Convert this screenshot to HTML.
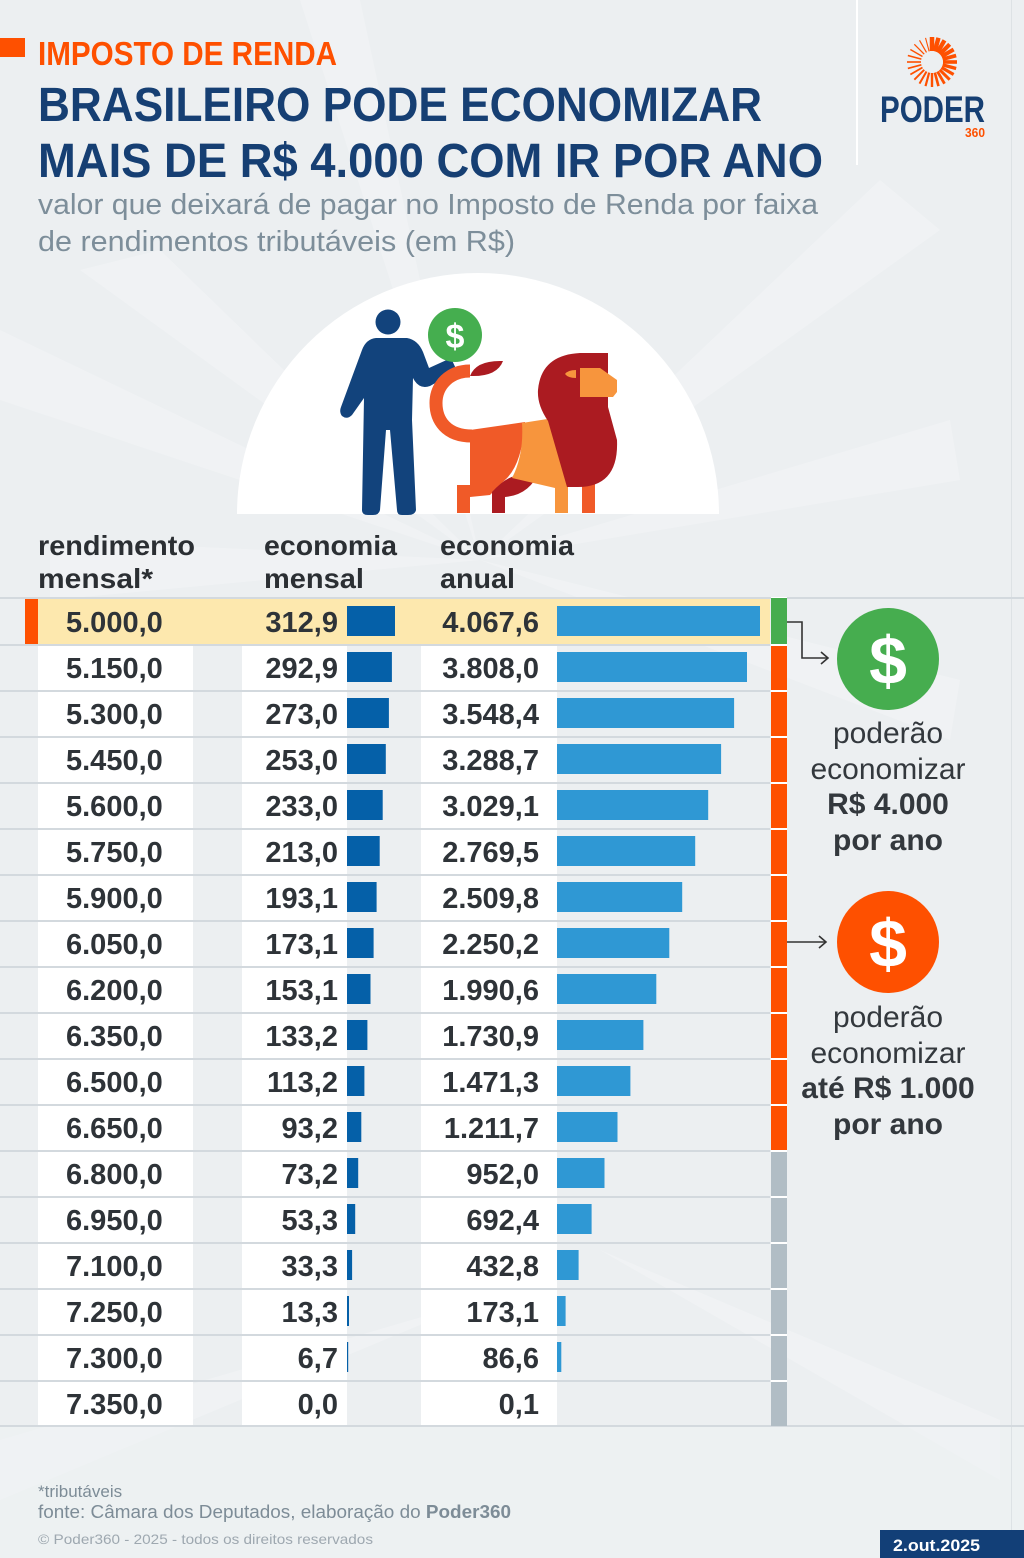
<!DOCTYPE html>
<html><head><meta charset="utf-8"><style>
html,body{margin:0;padding:0;background:#eceff1;}
svg{display:block;}
text{font-family:"Liberation Sans",sans-serif;}
</style></head><body>
<svg width="1024" height="1558" viewBox="0 0 1024 1558" xmlns="http://www.w3.org/2000/svg">
<rect x="0" y="0" width="1024" height="1558" fill="#eceff1"/>
<!-- faint rays -->
<g fill="#f0f2f4">
<polygon points="480,560 80,270 160,250"/>
<polygon points="480,560 0,330 0,400"/>
<polygon points="480,560 50,540 50,600"/>
<polygon points="480,560 300,0 360,0"/>
<polygon points="480,560 880,180 940,230"/>
<polygon points="480,560 950,420 960,480"/>
<polygon points="480,560 960,680 950,740"/>
<polygon points="480,1300 0,1440 0,1500"/>
<polygon points="600,1250 1000,1420 1000,1480"/>
</g>
<rect x="0" y="1427" width="1024" height="131" fill="#eef1f3" opacity="0.6"/>
<!-- header -->
<rect x="0" y="38" width="25" height="19" fill="#fe5000"/>
<text x="38" y="65" font-size="33" font-weight="bold" fill="#fe5000" textLength="299" lengthAdjust="spacingAndGlyphs">IMPOSTO DE RENDA</text>
<text x="38" y="121" font-size="48" font-weight="bold" fill="#163f73" textLength="724" lengthAdjust="spacingAndGlyphs">BRASILEIRO PODE ECONOMIZAR</text>
<text x="38" y="177" font-size="48" font-weight="bold" fill="#163f73" textLength="785" lengthAdjust="spacingAndGlyphs">MAIS DE R$ 4.000 COM IR POR ANO</text>
<text x="38" y="214" font-size="29" fill="#7d8e9a" textLength="780" lengthAdjust="spacingAndGlyphs">valor que deixará de pagar no Imposto de Renda por faixa</text>
<text x="38" y="251" font-size="29" fill="#7d8e9a" textLength="477" lengthAdjust="spacingAndGlyphs">de rendimentos tributáveis (em R$)</text>
<!-- logo -->
<rect x="856" y="0" width="2" height="165" fill="#ffffff"/>
<rect x="1011" y="0" width="1" height="1558" fill="#dde2e5"/>
<g transform="translate(932,62)" stroke="#fe5000" stroke-linecap="butt">
<line x1="0" y1="-11" x2="0" y2="-25" stroke-width="4.5"/>
<line x1="0" y1="-11" x2="0" y2="-25" stroke-width="4.4" transform="rotate(15)"/>
<line x1="0" y1="-11" x2="0" y2="-25" stroke-width="4.3" transform="rotate(30)"/>
<line x1="0" y1="-11" x2="0" y2="-25" stroke-width="4.2" transform="rotate(45)"/>
<line x1="0" y1="-11" x2="0" y2="-25" stroke-width="4" transform="rotate(60)"/>
<line x1="0" y1="-11" x2="0" y2="-25" stroke-width="3.8" transform="rotate(75)"/>
<line x1="0" y1="-11" x2="0" y2="-25" stroke-width="3.6" transform="rotate(90)"/>
<line x1="0" y1="-11" x2="0" y2="-25" stroke-width="3.4" transform="rotate(105)"/>
<line x1="0" y1="-11" x2="0" y2="-25" stroke-width="3.2" transform="rotate(120)"/>
<line x1="0" y1="-11" x2="0" y2="-25" stroke-width="3" transform="rotate(135)"/>
<line x1="0" y1="-11" x2="0" y2="-25" stroke-width="2.8" transform="rotate(150)"/>
<line x1="0" y1="-11" x2="0" y2="-25" stroke-width="2.6" transform="rotate(165)"/>
<line x1="0" y1="-11" x2="0" y2="-25" stroke-width="2.4" transform="rotate(180)"/>
<line x1="0" y1="-11" x2="0" y2="-25" stroke-width="2.2" transform="rotate(195)"/>
<line x1="0" y1="-11" x2="0" y2="-25" stroke-width="2" transform="rotate(210)"/>
<line x1="0" y1="-11" x2="0" y2="-25" stroke-width="1.9" transform="rotate(225)"/>
<line x1="0" y1="-11" x2="0" y2="-25" stroke-width="1.8" transform="rotate(240)"/>
<line x1="0" y1="-11" x2="0" y2="-25" stroke-width="1.7" transform="rotate(255)"/>
<line x1="0" y1="-11" x2="0" y2="-25" stroke-width="1.6" transform="rotate(270)"/>
<line x1="0" y1="-11" x2="0" y2="-25" stroke-width="1.5" transform="rotate(285)"/>
<line x1="0" y1="-11" x2="0" y2="-25" stroke-width="1.4" transform="rotate(300)"/>
<line x1="0" y1="-11" x2="0" y2="-25" stroke-width="1.3" transform="rotate(315)"/>
<line x1="0" y1="-11" x2="0" y2="-25" stroke-width="1.2" transform="rotate(330)"/>
<line x1="0" y1="-11" x2="0" y2="-25" stroke-width="1.1" transform="rotate(345)"/>
</g>
<text x="880" y="122" font-size="37" font-weight="bold" fill="#163f73" textLength="105" lengthAdjust="spacingAndGlyphs">PODER</text>
<text x="965" y="137" font-size="13" font-weight="bold" fill="#fe5000" textLength="20" lengthAdjust="spacingAndGlyphs">360</text>
<!-- illustration -->
<path d="M237,514 A241,241 0 0 1 719,514 Z" fill="#ffffff"/>
<circle cx="388" cy="322" r="12.5" fill="#12437c"/>
<path d="M376,338 L407,338 Q418,340 423,352 L429,368 L451,358 L457,371 L430,386 Q419,390 413,378 L412,420 L416,510 Q415,515 408,515 L402,515 Q397,515 397,510 L390,430 L386,430 L380,510 Q379,515 373,515 L368,515 Q362,515 362,510 L364,398 L352,415 Q347,420 342,416 Q339,412 341,407 L362,350 Q366,339 376,338 Z" fill="#12437c"/>
<circle cx="455" cy="335" r="27" fill="#45ae4f"/>
<text x="455" y="348" font-size="34" font-weight="bold" fill="#ffffff" text-anchor="middle">$</text>
<!-- lion -->
<path d="M472,436 C446,436 436,420 436,403 C436,385 450,371 470,371" fill="none" stroke="#f05a28" stroke-width="13"/>
<path d="M470,376 Q476,360 503,361 Q497,377 470,376 Z" fill="#ab1b21"/>
<path d="M470,430 L525,422 Q522,465 505,480 L490,495 L470,497 L470,513 L457,513 L457,485 L470,485 Z" fill="#f05a28"/>
<path d="M540,470 Q530,495 505,497 L505,513 L492,513 L492,492 Q505,478 515,476 Z" fill="#ab1b21"/>
<path d="M522,423 L560,417 L572,486 L568,486 L568,513 L555,513 L555,488 L512,478 Q524,455 522,423 Z" fill="#f7953d"/>
<rect x="582" y="480" width="13" height="33" fill="#f05a28"/>
<path d="M608,353 L608,407 L617,440 Q619,487 578,487 L567,487 L548,421 Q537,405 538,390 Q541,355 580,353 Z" fill="#ab1b21"/>
<path d="M580,368 L600,368 L617,380 L617,392 L613,397 L580,397 Z" fill="#f7953d"/>
<path d="M565,374 Q568,370 576,370 L576,378 Q568,378 565,374 Z" fill="#f7953d"/>
<!-- column headers -->
<g font-size="28" font-weight="bold" fill="#2b2f33">
<text x="38" y="555" textLength="157" lengthAdjust="spacingAndGlyphs">rendimento</text>
<text x="38" y="588" textLength="115" lengthAdjust="spacingAndGlyphs">mensal*</text>
<text x="264" y="555" textLength="133" lengthAdjust="spacingAndGlyphs">economia</text>
<text x="264" y="588" textLength="100" lengthAdjust="spacingAndGlyphs">mensal</text>
<text x="440" y="555" textLength="134" lengthAdjust="spacingAndGlyphs">economia</text>
<text x="440" y="588" textLength="75" lengthAdjust="spacingAndGlyphs">anual</text>
</g>
<!-- table: separators -->
<rect x="0" y="597" width="1024" height="2" fill="#d3d9de"/>
<g fill="#d3d9de">
<rect x="0" y="644" width="770" height="2"/><rect x="0" y="690" width="770" height="2"/><rect x="0" y="736" width="770" height="2"/>
<rect x="0" y="782" width="770" height="2"/><rect x="0" y="828" width="770" height="2"/><rect x="0" y="874" width="770" height="2"/>
<rect x="0" y="920" width="770" height="2"/><rect x="0" y="966" width="770" height="2"/><rect x="0" y="1012" width="770" height="2"/>
<rect x="0" y="1058" width="770" height="2"/><rect x="0" y="1104" width="770" height="2"/><rect x="0" y="1150" width="770" height="2"/>
<rect x="0" y="1196" width="770" height="2"/><rect x="0" y="1242" width="770" height="2"/><rect x="0" y="1288" width="770" height="2"/>
<rect x="0" y="1334" width="770" height="2"/><rect x="0" y="1380" width="770" height="2"/><rect x="0" y="1425" width="1024" height="2"/>
</g>
<!-- highlighted row -->
<rect x="25" y="599" width="13" height="45" fill="#fe5000"/>
<rect x="38" y="599" width="732" height="45" fill="#fde8ae"/>
<!-- white cells -->
<g fill="#ffffff">
<rect x="38" y="646" width="155" height="44"/><rect x="242" y="646" width="105" height="44"/><rect x="421" y="646" width="136" height="44"/>
<rect x="38" y="692" width="155" height="44"/><rect x="242" y="692" width="105" height="44"/><rect x="421" y="692" width="136" height="44"/>
<rect x="38" y="738" width="155" height="44"/><rect x="242" y="738" width="105" height="44"/><rect x="421" y="738" width="136" height="44"/>
<rect x="38" y="784" width="155" height="44"/><rect x="242" y="784" width="105" height="44"/><rect x="421" y="784" width="136" height="44"/>
<rect x="38" y="830" width="155" height="44"/><rect x="242" y="830" width="105" height="44"/><rect x="421" y="830" width="136" height="44"/>
<rect x="38" y="876" width="155" height="44"/><rect x="242" y="876" width="105" height="44"/><rect x="421" y="876" width="136" height="44"/>
<rect x="38" y="922" width="155" height="44"/><rect x="242" y="922" width="105" height="44"/><rect x="421" y="922" width="136" height="44"/>
<rect x="38" y="968" width="155" height="44"/><rect x="242" y="968" width="105" height="44"/><rect x="421" y="968" width="136" height="44"/>
<rect x="38" y="1014" width="155" height="44"/><rect x="242" y="1014" width="105" height="44"/><rect x="421" y="1014" width="136" height="44"/>
<rect x="38" y="1060" width="155" height="44"/><rect x="242" y="1060" width="105" height="44"/><rect x="421" y="1060" width="136" height="44"/>
<rect x="38" y="1106" width="155" height="44"/><rect x="242" y="1106" width="105" height="44"/><rect x="421" y="1106" width="136" height="44"/>
<rect x="38" y="1152" width="155" height="44"/><rect x="242" y="1152" width="105" height="44"/><rect x="421" y="1152" width="136" height="44"/>
<rect x="38" y="1198" width="155" height="44"/><rect x="242" y="1198" width="105" height="44"/><rect x="421" y="1198" width="136" height="44"/>
<rect x="38" y="1244" width="155" height="44"/><rect x="242" y="1244" width="105" height="44"/><rect x="421" y="1244" width="136" height="44"/>
<rect x="38" y="1290" width="155" height="44"/><rect x="242" y="1290" width="105" height="44"/><rect x="421" y="1290" width="136" height="44"/>
<rect x="38" y="1336" width="155" height="44"/><rect x="242" y="1336" width="105" height="44"/><rect x="421" y="1336" width="136" height="44"/>
<rect x="38" y="1382" width="155" height="43"/><rect x="242" y="1382" width="105" height="43"/><rect x="421" y="1382" width="136" height="43"/>
</g>
<!-- mensal bars -->
<g fill="#0560a8">
<rect x="347" y="606" width="48" height="30"/>
<rect x="347" y="652" width="44.9" height="30"/>
<rect x="347" y="698" width="41.9" height="30"/>
<rect x="347" y="744" width="38.8" height="30"/>
<rect x="347" y="790" width="35.7" height="30"/>
<rect x="347" y="836" width="32.7" height="30"/>
<rect x="347" y="882" width="29.6" height="30"/>
<rect x="347" y="928" width="26.6" height="30"/>
<rect x="347" y="974" width="23.5" height="30"/>
<rect x="347" y="1020" width="20.4" height="30"/>
<rect x="347" y="1066" width="17.4" height="30"/>
<rect x="347" y="1112" width="14.3" height="30"/>
<rect x="347" y="1158" width="11.2" height="30"/>
<rect x="347" y="1204" width="8.2" height="30"/>
<rect x="347" y="1250" width="5.1" height="30"/>
<rect x="347" y="1296" width="2" height="30"/>
<rect x="347" y="1342" width="1.2" height="30"/>
</g>
<!-- anual bars -->
<g fill="#2f98d4">
<rect x="557" y="606" width="203" height="30"/>
<rect x="557" y="652" width="190" height="30"/>
<rect x="557" y="698" width="177.1" height="30"/>
<rect x="557" y="744" width="164.1" height="30"/>
<rect x="557" y="790" width="151.2" height="30"/>
<rect x="557" y="836" width="138.2" height="30"/>
<rect x="557" y="882" width="125.2" height="30"/>
<rect x="557" y="928" width="112.3" height="30"/>
<rect x="557" y="974" width="99.3" height="30"/>
<rect x="557" y="1020" width="86.4" height="30"/>
<rect x="557" y="1066" width="73.4" height="30"/>
<rect x="557" y="1112" width="60.5" height="30"/>
<rect x="557" y="1158" width="47.5" height="30"/>
<rect x="557" y="1204" width="34.6" height="30"/>
<rect x="557" y="1250" width="21.6" height="30"/>
<rect x="557" y="1296" width="8.6" height="30"/>
<rect x="557" y="1342" width="4.3" height="30"/>
</g>
<!-- side status bars -->
<rect x="771" y="597" width="16" height="829" fill="#ffffff"/>
<rect x="771" y="598" width="16" height="46" fill="#46ad4f"/>
<g fill="#fe5000">
<rect x="771" y="646" width="16" height="44"/><rect x="771" y="692" width="16" height="44"/><rect x="771" y="738" width="16" height="44"/>
<rect x="771" y="784" width="16" height="44"/><rect x="771" y="830" width="16" height="44"/><rect x="771" y="876" width="16" height="44"/>
<rect x="771" y="922" width="16" height="44"/><rect x="771" y="968" width="16" height="44"/><rect x="771" y="1014" width="16" height="44"/>
<rect x="771" y="1060" width="16" height="44"/><rect x="771" y="1106" width="16" height="44"/>
</g>
<g fill="#b1bdc5">
<rect x="771" y="1152" width="16" height="44"/><rect x="771" y="1198" width="16" height="44"/><rect x="771" y="1244" width="16" height="44"/>
<rect x="771" y="1290" width="16" height="44"/><rect x="771" y="1336" width="16" height="44"/><rect x="771" y="1382" width="16" height="44"/>
</g>
<!-- numbers -->
<g font-size="29" font-weight="bold" fill="#2e3338">
<text x="66" y="632">5.000,0</text>
<text x="66" y="678">5.150,0</text>
<text x="66" y="724">5.300,0</text>
<text x="66" y="770">5.450,0</text>
<text x="66" y="816">5.600,0</text>
<text x="66" y="862">5.750,0</text>
<text x="66" y="908">5.900,0</text>
<text x="66" y="954">6.050,0</text>
<text x="66" y="1000">6.200,0</text>
<text x="66" y="1046">6.350,0</text>
<text x="66" y="1092">6.500,0</text>
<text x="66" y="1138">6.650,0</text>
<text x="66" y="1184">6.800,0</text>
<text x="66" y="1230">6.950,0</text>
<text x="66" y="1276">7.100,0</text>
<text x="66" y="1322">7.250,0</text>
<text x="66" y="1368">7.300,0</text>
<text x="66" y="1414">7.350,0</text>
</g>
<g font-size="29" font-weight="bold" fill="#2e3338" text-anchor="end">
<text x="338" y="632">312,9</text>
<text x="338" y="678">292,9</text>
<text x="338" y="724">273,0</text>
<text x="338" y="770">253,0</text>
<text x="338" y="816">233,0</text>
<text x="338" y="862">213,0</text>
<text x="338" y="908">193,1</text>
<text x="338" y="954">173,1</text>
<text x="338" y="1000">153,1</text>
<text x="338" y="1046">133,2</text>
<text x="338" y="1092">113,2</text>
<text x="338" y="1138">93,2</text>
<text x="338" y="1184">73,2</text>
<text x="338" y="1230">53,3</text>
<text x="338" y="1276">33,3</text>
<text x="338" y="1322">13,3</text>
<text x="338" y="1368">6,7</text>
<text x="338" y="1414">0,0</text>
<text x="539" y="632">4.067,6</text>
<text x="539" y="678">3.808,0</text>
<text x="539" y="724">3.548,4</text>
<text x="539" y="770">3.288,7</text>
<text x="539" y="816">3.029,1</text>
<text x="539" y="862">2.769,5</text>
<text x="539" y="908">2.509,8</text>
<text x="539" y="954">2.250,2</text>
<text x="539" y="1000">1.990,6</text>
<text x="539" y="1046">1.730,9</text>
<text x="539" y="1092">1.471,3</text>
<text x="539" y="1138">1.211,7</text>
<text x="539" y="1184">952,0</text>
<text x="539" y="1230">692,4</text>
<text x="539" y="1276">432,8</text>
<text x="539" y="1322">173,1</text>
<text x="539" y="1368">86,6</text>
<text x="539" y="1414">0,1</text>
</g>
<!-- annotations -->
<g fill="none" stroke="#333" stroke-width="1.6">
<polyline points="787,622 802,622 802,658 828,658"/>
<polyline points="821,652 828,658 821,664"/>
<line x1="787" y1="942" x2="826" y2="942"/>
<polyline points="819,936 826,942 819,948"/>
</g>
<circle cx="888" cy="659" r="51" fill="#46ad4f"/>
<text x="888" y="684" font-size="68" font-weight="bold" fill="#ffffff" text-anchor="middle">$</text>
<circle cx="888" cy="942" r="51" fill="#fe5000"/>
<text x="888" y="967" font-size="68" font-weight="bold" fill="#ffffff" text-anchor="middle">$</text>
<g font-size="30" fill="#33383d" text-anchor="middle">
<text x="888" y="743">poderão</text>
<text x="888" y="779">economizar</text>
<text x="888" y="814" font-weight="bold">R$ 4.000</text>
<text x="888" y="850" font-weight="bold">por ano</text>
<text x="888" y="1027">poderão</text>
<text x="888" y="1063">economizar</text>
<text x="888" y="1098" font-weight="bold">até R$ 1.000</text>
<text x="888" y="1134" font-weight="bold">por ano</text>
</g>
<!-- footer -->
<text x="38" y="1497" font-size="17" fill="#7d8c97">*tributáveis</text>
<text x="38" y="1518" font-size="18" fill="#7d8c97" textLength="473" lengthAdjust="spacingAndGlyphs">fonte: Câmara dos Deputados, elaboração do <tspan font-weight="bold">Poder360</tspan></text>
<text x="38" y="1544" font-size="14" fill="#9ea8b0" textLength="335" lengthAdjust="spacingAndGlyphs">© Poder360 - 2025 - todos os direitos reservados</text>
<rect x="880" y="1530" width="144" height="28" fill="#123f77"/>
<text x="893" y="1551" font-size="17" font-weight="bold" fill="#ffffff" textLength="87" lengthAdjust="spacingAndGlyphs">2.out.2025</text>
</svg>
</body></html>
